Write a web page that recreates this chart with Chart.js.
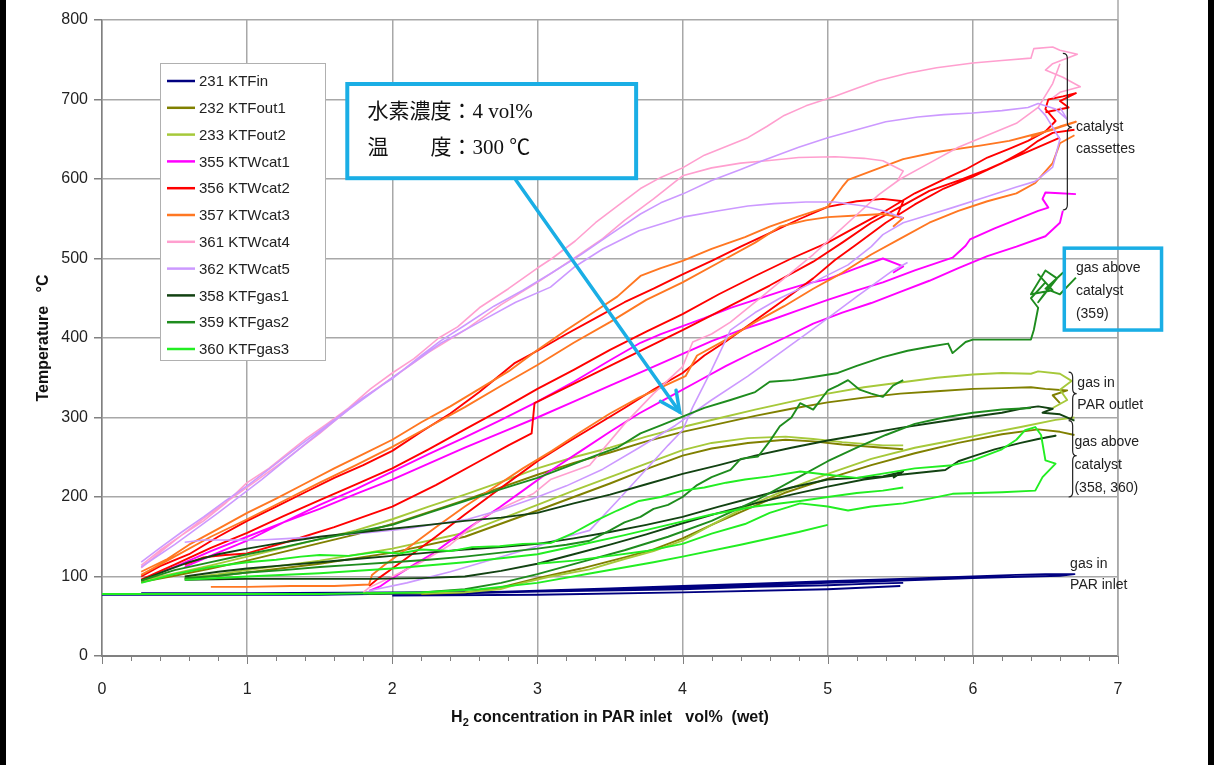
<!DOCTYPE html>
<html><head><meta charset="utf-8">
<script src="https://cdn.jsdelivr.net/npm/chart.js@4.4.1/dist/chart.umd.min.js"></script>
<style>html,body{margin:0;padding:0;background:#fff;}#wrap{width:1216px;height:765px;position:relative;}</style>
</head><body><div id="wrap"><canvas id="c" width="1216" height="765"></canvas></div>
<script>
// ---------- DATA (x = H2 vol%, y = temperature °C); each series is a list of strands ----------
const seriesNames = ['231 KTFin','232 KTFout1','233 KTFout2','355 KTWcat1','356 KTWcat2','357 KTWcat3','361 KTWcat4','362 KTWcat5','358 KTFgas1','359 KTFgas2','360 KTFgas3'];
const seriesColors = ['#000080','#808000','#a6c93a','#ff00ff','#ff0000','#ff7722','#ff9fcf','#cc99ff','#124212','#1e8c1e','#22ee22'];
const xTickValues = [0,1,2,3,4,5,6,7];
const yTickValues = [0,100,200,300,400,500,600,700,800];

const s231 = [
 [[0,77],[0.5,77],[1.0,77],[1.5,77],[1.84,78],[2.2,79],[2.6,80],[3.0,82],[3.5,85],[4.0,88],[4.5,91],[5.0,94],[5.5,97],[6.0,100],[6.3,102],[6.5,103],[6.7,103],[6.6,101],[6.4,100],[6.0,98],[5.5,95],[5.0,92],[4.5,89],[4.0,86],[3.5,83],[3.0,81],[2.5,79],[2.0,78]],
 [[0.27,79],[1.0,79],[2.0,80],[3.0,81],[4.0,84],[4.5,87],[5.0,89],[5.3,91],[5.52,92]],
 [[2.0,76],[3.0,77],[4.0,80],[5.0,84],[5.5,88]]
];
const s232 = [
 [[0.27,93],[0.5,101],[0.75,110],[1.0,120],[1.25,131],[1.5,142],[1.75,153],[2.0,166],[2.25,181],[2.5,196],[2.75,212],[3.0,228],[3.25,243],[3.5,256],[3.75,270],[4.0,282],[4.25,292],[4.5,302],[4.75,311],[5.0,319],[5.25,325],[5.5,330],[5.75,333],[6.0,336],[6.2,337],[6.4,338],[6.5,336],[6.65,334],[6.55,328],[6.6,318]],
 [[0.57,97],[0.8,101],[1.0,105],[1.5,116],[2.0,130],[2.5,150],[3.0,183],[3.25,200],[3.5,217],[3.75,235],[4.0,252],[4.2,261],[4.45,268],[4.71,272],[4.9,270],[5.1,266],[5.38,262],[5.52,260]],
 [[2.2,78],[2.5,80],[2.74,86],[3.0,98],[3.3,110],[3.6,124],[3.8,134],[4.0,148],[4.2,165],[4.45,185],[4.7,205],[5.0,223],[5.3,240],[5.6,255],[5.9,268],[6.2,279],[6.45,285],[6.6,282],[6.7,278]]
];
const s233 = [
 [[0.27,95],[0.5,104],[0.75,114],[1.0,125],[1.25,136],[1.5,147],[1.75,158],[2.0,172],[2.25,188],[2.5,203],[2.75,219],[3.0,236],[3.25,250],[3.5,262],[3.75,276],[4.0,288],[4.25,299],[4.5,310],[4.75,320],[5.0,330],[5.25,338],[5.5,344],[5.75,350],[6.0,354],[6.2,356],[6.4,355],[6.45,358],[6.6,355],[6.68,346],[6.6,335],[6.65,322],[6.55,312]],
 [[0.57,98],[0.8,103],[1.0,108],[1.5,120],[2.0,135],[2.5,155],[3.0,190],[3.25,208],[3.5,225],[3.75,242],[4.0,259],[4.2,268],[4.45,274],[4.71,276],[4.9,273],[5.1,269],[5.38,265],[5.52,265]],
 [[1.8,79],[2.2,79],[2.5,80],[2.74,84],[2.9,92],[3.09,100],[3.36,109],[3.6,122],[3.8,132],[4.0,145],[4.2,165],[4.43,187],[4.7,208],[5.0,229],[5.3,248],[5.6,262],[5.86,271],[6.1,280],[6.33,288],[6.57,297],[6.7,300]]
];
const s355 = [
 [[0.27,95],[0.5,112],[0.75,132],[1.0,150],[1.25,168],[1.5,185],[1.75,204],[2.0,222],[2.25,242],[2.5,262],[2.75,281],[3.0,300],[3.25,320],[3.5,340],[3.75,360],[4.0,380],[4.2,396],[4.4,410],[4.6,422],[4.8,435],[5.0,448],[5.2,460],[5.38,470],[5.6,485],[5.86,501],[5.95,516],[5.98,524],[6.15,538],[6.33,551],[6.45,560],[6.52,564],[6.48,575],[6.5,583],[6.6,582],[6.71,581]],
 [[0.57,112],[0.8,130],[1.0,145],[1.25,168],[1.5,190],[1.75,210],[2.0,232],[2.25,254],[2.5,275],[2.75,297],[3.0,320],[3.25,345],[3.5,372],[3.71,394],[3.85,405],[4.0,415],[4.15,425],[4.33,438],[4.5,448],[4.7,460],[4.85,468],[5.0,474],[5.2,488],[5.38,500],[5.52,490],[5.45,482]],
 [[1.84,82],[1.92,88],[2.0,98],[2.15,115],[2.28,129],[2.5,158],[2.74,187],[2.9,208],[3.09,233],[3.3,258],[3.5,282],[3.7,305],[3.9,325],[4.1,345],[4.3,365],[4.5,383],[4.7,400],[4.9,418],[5.1,432],[5.3,444],[5.5,458],[5.7,472],[5.9,488],[6.1,503],[6.3,515],[6.5,528],[6.6,545],[6.62,560]]
];
const s356 = [
 [[0.27,100],[0.4,113],[0.6,128],[0.8,150],[1.0,170],[1.2,188],[1.4,206],[1.6,224],[1.8,240],[2.0,258],[2.2,282],[2.4,305],[2.6,332],[2.84,368],[3.0,384],[3.2,405],[3.4,425],[3.6,445],[3.8,462],[4.0,480],[4.2,497],[4.4,515],[4.6,532],[4.81,550],[5.0,565],[5.2,572],[5.38,575],[5.52,572],[5.48,555]],
 [[0.27,96],[0.5,115],[0.75,136],[1.0,155],[1.25,176],[1.5,196],[1.75,216],[2.0,236],[2.25,260],[2.5,285],[2.75,310],[3.0,336],[3.25,360],[3.5,385],[3.75,408],[4.0,430],[4.25,455],[4.5,478],[4.75,500],[5.0,520],[5.2,540],[5.4,560],[5.6,582],[5.83,602],[5.95,612],[6.1,627],[6.25,638],[6.38,648],[6.5,660],[6.57,673],[6.5,688],[6.52,700],[6.62,704],[6.71,708],[6.6,698],[6.66,690],[6.5,684]],
 [[1.84,88],[1.9,97],[2.0,110],[2.15,130],[2.3,150],[2.5,178],[2.7,205],[2.85,225],[3.0,245],[3.2,268],[3.4,290],[3.6,312],[3.8,335],[4.0,356],[4.15,378],[4.3,396],[4.5,422],[4.7,448],[4.9,475],[5.05,498],[5.2,518],[5.4,545],[5.6,568],[5.8,588],[6.0,603],[6.2,620],[6.35,635],[6.45,648],[6.55,658],[6.7,662]],
 [[0.57,115],[0.7,124],[0.85,127],[1.0,129],[1.3,145],[1.6,162],[2.0,188],[2.3,215],[2.6,245],[2.8,265],[2.96,280],[2.98,318],[3.2,338],[3.5,365],[3.8,392],[4.0,410],[4.3,438],[4.6,466],[4.9,496],[5.1,520],[5.3,545],[5.5,565],[5.7,585],[5.9,598],[6.1,612],[6.3,628],[6.45,640],[6.6,652]]
];
const s357 = [
 [[0.27,106],[0.45,122],[0.6,140],[0.8,160],[1.0,180],[1.2,198],[1.4,217],[1.6,236],[1.8,254],[2.0,272],[2.2,294],[2.4,314],[2.6,336],[2.8,358],[3.0,385],[3.2,410],[3.4,434],[3.55,452],[3.71,478],[3.85,488],[4.0,497],[4.2,512],[4.43,527],[4.6,540],[4.8,553],[5.0,565],[5.1,590],[5.14,599],[5.3,610],[5.52,625],[5.75,634],[6.05,642],[6.25,648],[6.4,655],[6.55,662],[6.71,672],[6.6,666],[6.5,660],[6.4,652]],
 [[0.27,102],[0.5,125],[0.75,150],[1.0,172],[1.25,195],[1.5,218],[1.75,240],[2.0,263],[2.25,288],[2.5,313],[2.75,340],[3.0,366],[3.25,394],[3.5,420],[3.75,448],[4.0,470],[4.25,495],[4.5,520],[4.67,540],[4.85,548],[5.0,552],[5.2,554],[5.38,556],[5.52,551],[5.45,540]],
 [[0.75,87],[1.0,87],[1.3,88],[1.6,88],[1.84,90],[1.86,102],[1.95,115],[2.1,135],[2.3,162],[2.5,188],[2.7,212],[2.9,236],[3.1,258],[3.3,282],[3.5,305],[3.7,325],[3.9,342],[4.02,352],[4.1,378],[4.3,398],[4.5,420],[4.7,440],[4.9,462],[5.1,482],[5.3,505],[5.5,525],[5.7,545],[5.9,560],[6.1,572],[6.3,582],[6.43,595],[6.55,620],[6.6,645],[6.7,655]]
];
const s361 = [
 [[0.27,114],[0.4,133],[0.55,152],[0.7,170],[0.85,192],[1.0,218],[1.15,236],[1.3,258],[1.41,274],[1.55,292],[1.7,312],[1.85,336],[2.0,356],[2.15,374],[2.32,400],[2.45,414],[2.6,438],[2.8,462],[3.0,488],[3.1,500],[3.26,522],[3.4,545],[3.55,566],[3.71,588],[3.85,602],[4.0,614],[4.15,630],[4.3,641],[4.45,652],[4.58,666],[4.7,680],[4.85,692],[5.05,704],[5.2,714],[5.35,724],[5.55,733],[5.75,740],[6.0,746],[6.2,749],[6.4,752],[6.42,764],[6.55,766],[6.6,762],[6.72,757],[6.55,745],[6.5,737],[6.62,728],[6.74,716],[6.6,709],[6.55,702]],
 [[0.27,111],[0.5,145],[0.75,180],[1.0,212],[1.25,245],[1.5,280],[1.75,318],[2.0,350],[2.25,382],[2.5,410],[2.75,442],[3.0,470],[3.25,500],[3.45,525],[3.6,548],[3.8,575],[4.0,604],[4.2,614],[4.4,620],[4.58,623],[4.8,627],[5.05,628],[5.25,626],[5.38,623],[5.52,610],[5.48,598]],
 [[1.8,80],[1.84,86],[2.0,100],[2.2,118],[2.4,140],[2.63,175],[2.8,190],[2.97,204],[3.09,222],[3.36,240],[3.6,292],[3.8,330],[4.0,364],[4.07,395],[4.2,405],[4.33,420],[4.5,445],[4.7,475],[4.9,505],[5.05,530],[5.2,555],[5.35,580],[5.5,600],[5.7,620],[5.9,640],[6.1,655],[6.3,670],[6.45,690],[6.55,720],[6.6,745]]
];
const s362 = [
 [[0.27,118],[0.4,136],[0.55,156],[0.7,175],[0.85,195],[1.0,214],[1.2,242],[1.4,270],[1.6,297],[1.8,325],[2.0,349],[2.2,378],[2.33,396],[2.5,416],[2.7,440],[2.9,460],[3.1,482],[3.3,505],[3.5,530],[3.71,556],[3.85,570],[4.0,581],[4.2,598],[4.4,612],[4.55,623],[4.8,640],[5.0,652],[5.2,662],[5.4,672],[5.62,678],[5.8,681],[6.0,683],[6.2,686],[6.38,690],[6.45,695],[6.57,688],[6.65,675],[6.6,690]],
 [[0.27,112],[0.5,140],[0.8,180],[1.1,222],[1.41,268],[1.7,310],[2.0,350],[2.33,393],[2.6,420],[2.85,445],[3.09,464],[3.26,490],[3.45,512],[3.7,535],[4.0,552],[4.25,560],[4.45,566],[4.63,569],[4.85,571],[5.05,571],[5.25,566],[5.38,560],[5.52,551]],
 [[0.57,143],[0.7,146],[0.9,146],[1.09,146],[1.3,148],[1.5,150],[1.83,155],[2.1,160],[2.3,166],[2.52,172],[2.75,184],[3.0,200],[3.2,214],[3.45,235],[3.7,262],[3.95,290],[4.2,322],[4.45,352],[4.7,385],[4.95,418],[5.2,452],[5.45,485],[5.55,495]],
 [[1.84,82],[2.1,92],[2.4,106],[2.7,122],[3.0,138],[3.2,150],[3.36,158],[3.55,195],[3.75,235],[3.9,265],[4.0,284],[4.07,313],[4.2,360],[4.33,410],[4.5,432],[4.67,450],[4.9,470],[5.14,492],[5.3,515],[5.38,530],[5.52,545],[5.7,555],[5.86,564],[6.1,578],[6.3,590],[6.43,597],[6.55,615],[6.6,650],[6.5,680],[6.45,690]]
];
const s358 = [
 [[0.27,95],[0.45,108],[0.6,118],[0.8,128],[1.0,135],[1.25,143],[1.5,150],[1.75,155],[2.0,160],[2.25,165],[2.5,170],[2.75,174],[3.0,180],[3.25,192],[3.5,203],[3.75,216],[4.0,229],[4.25,240],[4.5,252],[4.75,262],[5.0,271],[5.25,279],[5.5,287],[5.75,294],[6.0,301],[6.2,306],[6.33,311],[6.45,314],[6.55,311],[6.48,306],[6.6,304],[6.7,296]],
 [[0.57,100],[0.8,106],[1.0,110],[1.25,114],[1.5,118],[1.75,122],[2.0,126],[2.25,130],[2.5,134],[2.75,137],[3.0,141],[3.25,148],[3.5,156],[3.75,165],[4.0,175],[4.25,188],[4.5,200],[4.75,212],[5.0,222],[5.2,224],[5.38,226],[5.52,232],[5.45,224]],
 [[0.57,96],[1.0,97],[1.5,97],[1.84,97],[2.2,98],[2.5,100],[2.75,107],[3.0,116],[3.25,128],[3.5,140],[3.75,153],[4.0,167],[4.25,180],[4.5,192],[4.75,203],[5.0,213],[5.25,222],[5.5,228],[5.81,234],[5.9,245],[6.0,251],[6.15,260],[6.33,268],[6.45,273],[6.57,277],[6.5,275]]
];
const s359 = [
 [[0.27,95],[0.5,108],[0.75,118],[1.0,128],[1.25,137],[1.5,147],[1.75,156],[2.0,165],[2.25,180],[2.5,195],[2.75,210],[3.0,224],[3.2,238],[3.4,252],[3.55,262],[3.71,280],[3.85,290],[4.0,301],[4.15,312],[4.33,322],[4.5,332],[4.6,345],[4.76,347],[4.9,351],[5.07,356],[5.2,365],[5.38,376],[5.55,384],[5.7,389],[5.83,393],[5.86,381],[5.95,395],[6.0,398],[6.2,398],[6.4,398],[6.42,410],[6.45,438],[6.4,450],[6.5,470],[6.45,480],[6.55,460],[6.4,455],[6.5,485],[6.58,475],[6.45,445],[6.55,470],[6.62,482],[6.5,462],[6.6,455],[6.71,476]],
 [[0.57,98],[0.8,101],[1.0,105],[1.25,108],[1.5,112],[1.75,115],[2.0,118],[2.25,121],[2.5,125],[2.75,130],[3.0,135],[3.2,140],[3.36,145],[3.5,158],[3.6,168],[3.71,175],[3.8,185],[3.9,190],[4.0,200],[4.1,215],[4.2,225],[4.33,234],[4.4,248],[4.52,251],[4.6,270],[4.67,289],[4.75,300],[4.81,318],[4.9,310],[5.0,334],[5.07,340],[5.14,347],[5.22,335],[5.3,330],[5.38,326],[5.45,340],[5.52,347]],
 [[1.84,78],[2.2,80],[2.5,84],[2.75,92],[3.0,103],[3.3,118],[3.6,133],[3.9,150],[4.2,170],[4.5,195],[4.8,225],[5.0,245],[5.2,262],[5.4,278],[5.6,292],[5.8,300],[6.0,306],[6.2,310],[6.4,312]]
];
const s360 = [
 [[0.27,92],[0.5,103],[0.75,112],[1.0,118],[1.2,121],[1.37,125],[1.5,127],[1.7,126],[1.9,131],[2.05,129],[2.2,134],[2.4,132],[2.55,137],[2.74,138],[2.9,141],[3.09,142],[3.25,155],[3.4,170],[3.55,183],[3.7,195],[3.85,200],[4.0,208],[4.15,212],[4.3,218],[4.43,222],[4.6,226],[4.81,232],[5.0,228],[5.2,224],[5.4,230],[5.6,236],[5.86,240],[6.0,246],[6.2,260],[6.3,272],[6.36,284],[6.43,288],[6.47,278],[6.5,246],[6.57,242],[6.48,225],[6.43,208],[6.2,206],[5.86,204],[5.7,198],[5.52,192],[5.3,188],[5.14,183],[5.0,188],[4.81,192],[4.6,180],[4.43,166],[4.2,154],[4.0,141],[3.75,132],[3.5,126],[3.25,120],[3.0,116]],
 [[0.57,96],[1.0,100],[1.5,104],[2.0,110],[2.5,118],[3.0,128],[3.3,140],[3.6,152],[3.9,165],[4.2,178],[4.5,188],[4.81,195],[5.0,200],[5.2,205],[5.38,208],[5.52,212]],
 [[0,78],[0.5,78],[1.0,78],[1.5,78],[1.84,79],[2.2,80],[2.6,84],[3.0,92],[3.4,105],[3.8,118],[4.0,125],[4.4,140],[4.8,156],[5.0,165]]
];
const seriesData = [s231,s232,s233,s355,s356,s357,s361,s362,s358,s359,s360];

// ---------- build datasets ----------
function toPoints(strands){
  const out=[];
  strands.forEach((st,i)=>{
    if(i>0) out.push({x:st[0][0], y:null});
    st.forEach(p=>out.push({x:p[0], y:p[1]}));
  });
  return out;
}
const datasets = seriesNames.map((name,i)=>({
  label:name, data:toPoints(seriesData[i]), borderColor:seriesColors[i], backgroundColor:seriesColors[i],
  borderWidth:(i===6||i===7)?1.6:1.9, pointRadius:0, tension:0, spanGaps:false, borderJoinStyle:'round',
  order: seriesNames.length - i   // later series drawn on top, as in the original
}));

const FONT = '"Liberation Sans", Arial, sans-serif';

const deco = {
  id:'deco',
  beforeDraw(chart){
    const c=chart.ctx; c.save(); c.fillStyle='#fff'; c.fillRect(0,0,chart.width,chart.height); c.restore();
  },
  afterDatasetsDraw(chart){
    const c=chart.ctx, xs=chart.scales.x, ys=chart.scales.y, a=chart.chartArea;
    const X=v=>xs.getPixelForValue(v), Y=v=>ys.getPixelForValue(v);
    c.save();
    c.strokeStyle='#a8a8a8'; c.lineWidth=1.5;
    c.beginPath(); c.moveTo(a.right,0); c.lineTo(a.right,a.bottom); c.stroke();
    c.strokeStyle='#808080'; c.lineWidth=1;
    for(let k=0;k<=35;k++){ const px=Math.round(X(k*0.2))+0.5; c.beginPath(); c.moveTo(px,a.bottom); c.lineTo(px,a.bottom+(k%5===0?8:5)); c.stroke(); }
    // legend
    const lx=160, ly=63, lw=165, lh=297;
    c.fillStyle='#fff'; c.fillRect(lx,ly,lw,lh);
    c.strokeStyle='#b0b0b0'; c.lineWidth=1; c.strokeRect(lx+0.5,ly+0.5,lw,lh);
    c.font='15px '+FONT; c.textBaseline='middle'; c.textAlign='left';
    seriesNames.forEach((name,i)=>{
      const yy=81+i*26.8;
      c.strokeStyle=seriesColors[i]; c.lineWidth=2.5; c.beginPath(); c.moveTo(167,yy); c.lineTo(195,yy); c.stroke();
      c.fillStyle='#222'; c.fillText(name,199,yy+1);
    });
    // callout box
    const bx1=X(1.69), by1=Y(719.5), bx2=X(3.68), by2=Y(601);
    c.fillStyle='#fff'; c.fillRect(bx1,by1,bx2-bx1,by2-by1);
    c.strokeStyle='#1aaee5'; c.lineWidth=4; c.strokeRect(bx1,by1,bx2-bx1,by2-by1);
    c.fillStyle='#111'; c.font='21px "Liberation Serif", "Noto Sans CJK JP", serif'; c.textBaseline='middle';
    c.fillText('水素濃度：4 vol%', X(1.83), Y(684));
    c.fillText('温　　度：300 ℃', X(1.83), Y(639));
    // arrow
    const ax1=X(2.85), ay1=Y(599), ax2=X(3.98), ay2=Y(307);
    c.strokeStyle='#1aaee5'; c.lineWidth=3.5; c.lineCap='round';
    c.beginPath(); c.moveTo(ax1,ay1); c.lineTo(ax2,ay2); c.stroke();
    const ang=Math.atan2(ay2-ay1,ax2-ax1), hl=22;
    c.beginPath();
    c.moveTo(ax2-hl*Math.cos(ang-0.45), ay2-hl*Math.sin(ang-0.45)); c.lineTo(ax2,ay2);
    c.lineTo(ax2-hl*Math.cos(ang+0.45), ay2-hl*Math.sin(ang+0.45)); c.stroke();
    // box around (359)
    const q1=X(6.63), q2=X(7.30), q3=Y(513), q4=Y(410);
    c.lineWidth=3.5; c.strokeRect(q1,q3,q2-q1,q4-q3);
    // braces
    function brace(xv,y1v,y2v,ymv,w){
      const x=X(xv), y1=Y(y1v), y2=Y(y2v), ym=Y(ymv), r=5;
      c.beginPath(); c.moveTo(x,y1);
      c.quadraticCurveTo(x+w/2,y1,x+w/2,y1+r); c.lineTo(x+w/2,ym-r);
      c.quadraticCurveTo(x+w/2,ym,x+w,ym); c.quadraticCurveTo(x+w/2,ym,x+w/2,ym+r);
      c.lineTo(x+w/2,y2-r); c.quadraticCurveTo(x+w/2,y2,x,y2); c.stroke();
    }
    c.strokeStyle='#222'; c.lineWidth=1.2; c.lineCap='butt';
    brace(6.62,758,561,665,9);
    brace(6.66,357,298,330,8);
    brace(6.66,296,200,252,8);
    c.fillStyle='#222'; c.font='14px '+FONT; c.textAlign='left'; c.textBaseline='middle';
    const T=(s,xv,yv)=>c.fillText(s,X(xv),Y(yv));
    T('catalyst',6.71,665); T('cassettes',6.71,638);
    T('gas above',6.71,488); T('catalyst',6.71,459); T('(359)',6.71,430);
    T('gas in',6.72,343); T('PAR outlet',6.72,316);
    T('gas above',6.70,269); T('catalyst',6.70,240); T('(358, 360)',6.70,211);
    T('gas in',6.67,115); T('PAR inlet',6.67,89);
    // axis titles
    c.font='bold 16px '+FONT; c.fillStyle='#111';
    c.save(); c.translate(44,(a.top+a.bottom)/2); c.rotate(-Math.PI/2); c.textAlign='center'; c.fillText('Temperature   °C',0,0); c.restore();
    const p1='H', p2='2', p3=' concentration in PAR inlet   vol%  (wet)';
    c.font='bold 16px '+FONT; const w1=c.measureText(p1).width, w3=c.measureText(p3).width;
    c.font='bold 11px '+FONT; const w2=c.measureText(p2).width;
    let sx=(a.left+a.right)/2 - (w1+w2+w3)/2, ty=718;
    c.textAlign='left';
    c.font='bold 16px '+FONT; c.fillText(p1,sx,ty);
    c.font='bold 11px '+FONT; c.fillText(p2,sx+w1,ty+5);
    c.font='bold 16px '+FONT; c.fillText(p3,sx+w1+w2,ty);
    c.fillStyle='#000'; c.fillRect(0,0,6,chart.height); c.fillRect(1208,0,6,chart.height);
    c.restore();
  }
};

new Chart(document.getElementById('c'),{
  type:'line',
  data:{datasets},
  options:{
    responsive:false, animation:false, devicePixelRatio:1,
    layout:{padding:{left:0,right:98,top:20,bottom:0}},
    plugins:{legend:{display:false}, tooltip:{enabled:false}},
    scales:{
      x:{type:'linear',min:0,max:7,
        afterBuildTicks:s=>{s.ticks=xTickValues.map(v=>({value:v}));},
        afterFit:s=>{s.height=109;},
        grid:{color:'#a8a8a8',lineWidth:1.5,drawTicks:false},
        border:{color:'#808080',width:2},
        ticks:{padding:24,color:'#222',font:{family:'Liberation Sans',size:16},callback:v=>String(v)}},
      y:{type:'linear',min:0,max:800,
        afterBuildTicks:s=>{s.ticks=yTickValues.map(v=>({value:v}));},
        afterFit:s=>{s.width=102;},
        grid:{color:'#a8a8a8',lineWidth:1.5,tickLength:8,tickColor:'#808080'},
        border:{color:'#808080',width:1.5},
        ticks:{padding:6,color:'#222',font:{family:'Liberation Sans',size:16},callback:v=>String(v)}}
    }
  },
  plugins:[deco]
});
</script></body></html>
